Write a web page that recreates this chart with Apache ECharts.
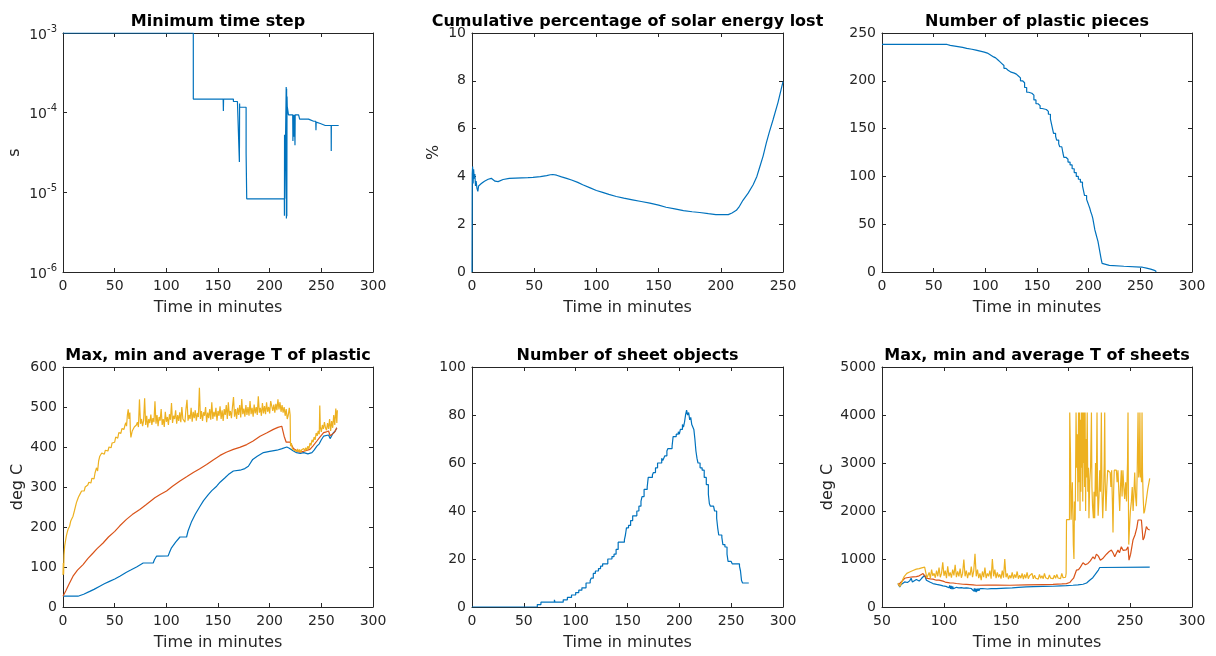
<!DOCTYPE html>
<html>
<head>
<meta charset="utf-8">
<script src="https://cdn.jsdelivr.net/npm/echarts@6/dist/echarts.min.js"></script>
<style>
  html, body { margin: 0; padding: 0; background: #fff; }
  #chart { width: 1216px; height: 656px; }
</style>
</head>
<body>
<div id="chart"></div>
<script>
// ---- data: [time in minutes, value] ----

// minimum solver time step (s)
const minTimeStep = [
  [0, 1e-3], [126.1, 1e-3], [126.1, 1.48e-4], [155.0, 1.48e-4], [155.2, 1.05e-4], [155.4, 1.48e-4],
  [164.9, 1.48e-4], [164.9, 1.38e-4], [168.8, 1.38e-4], [168.8, 1.32e-4], [170.5, 1.32e-4],
  [170.7, 2.4e-5], [170.8, 5.3e-5], [170.9, 1.3e-4], [171.0, 1.17e-4], [177.2, 1.17e-4],
  [177.2, 3.1e-5], [177.8, 8.3e-6], [214.2, 8.3e-6], [214.3, 5.1e-6], [214.4, 5.3e-5],
  [214.6, 8.3e-6], [215.8, 8.3e-6], [216.0, 2.1e-4], [216.2, 4.7e-6], [216.4, 2.0e-4],
  [216.6, 5e-6], [216.8, 1.6e-4], [217.0, 1.2e-4], [217.9, 1.2e-4], [218.2, 9.4e-5],
  [222.3, 9.4e-5], [222.5, 4.4e-5], [222.8, 9.4e-5], [223.2, 5e-5], [224.0, 9.4e-5],
  [224.5, 3.9e-5], [224.7, 9.4e-5], [228.0, 9.4e-5], [229.0, 8.3e-5], [237.6, 8.3e-5],
  [242.5, 7.8e-5], [244.6, 7.8e-5], [244.8, 6.0e-5], [245.0, 7.6e-5], [249.0, 7.3e-5],
  [253.8, 6.9e-5], [259.5, 6.9e-5], [259.6, 3.3e-5], [259.7, 6.9e-5], [266.8, 6.9e-5]
];

// cumulative percentage of solar energy lost (%)
const solarLost = [
  [0, 0], [0.2, 4.1], [0.5, 4.41], [0.9, 3.7], [1.3, 4.3], [1.8, 3.9], [2.3, 4.1], [2.8, 3.6],
  [3.3, 3.8], [4.0, 3.5], [4.7, 3.37], [5.3, 3.6], [6.0, 3.55], [7.5, 3.7], [8.5, 3.65],
  [10, 3.8], [11.5, 3.85], [13, 3.88], [15.5, 3.92], [17, 3.94], [18.5, 3.8], [19.5, 3.74],
  [21, 3.78], [22, 3.84], [25, 3.87], [30, 3.92], [35, 3.93], [40, 3.94], [45, 3.95],
  [49, 3.96], [55, 3.99], [60, 4.03], [63, 4.07], [65, 4.08], [68, 4.05], [72, 3.98],
  [76, 3.92], [80, 3.85], [85, 3.75], [89, 3.65], [95, 3.52], [100, 3.41], [105, 3.33],
  [110, 3.25], [116, 3.16], [122, 3.09], [129, 3.02], [136, 2.95], [143, 2.88], [150, 2.8],
  [156, 2.71], [163, 2.64], [170, 2.57], [177, 2.52], [183, 2.49], [190, 2.44], [196, 2.4],
  [206, 2.4], [209, 2.47], [212.5, 2.58], [215, 2.75], [217.8, 3.0], [222, 3.3], [226, 3.65],
  [229, 4.0], [231, 4.34], [234, 4.85], [236.6, 5.4], [239, 5.85], [242, 6.37], [246, 7.1],
  [250, 7.97]
];

// number of plastic pieces
const plasticPieces = [
  [0, 238], [63, 237], [66, 236], [72, 235], [78, 234], [82, 233], [87, 232], [91, 231],
  [95, 230], [99, 229], [102, 227], [105, 225], [108, 224], [110, 222], [112, 220],
  [114, 218], [116, 216], [118, 213], [120, 211], [122, 209], [125, 208], [128, 207],
  [130, 205], [132, 203], [134, 200], [136, 198], [138, 193], [140, 188], [142, 187],
  [145, 185], [147, 180], [149, 176], [151, 174], [153, 171], [155, 170], [159, 168],
  [161, 165], [163, 160], [164, 155], [165, 150], [166, 145], [168, 142], [169, 138],
  [171, 134], [172, 131], [174, 129], [175, 125], [176, 120], [178, 118], [180, 115],
  [182, 112], [184, 108], [186, 104], [188, 100], [190, 97], [192, 94], [194, 90],
  [195, 85], [196, 80], [198, 76], [199, 73], [200, 70], [201, 67], [202, 63], [203, 60],
  [204, 56], [205, 50], [206, 44], [207, 40], [208, 36], [209, 32], [210, 26], [211, 20],
  [212, 14], [213, 9], [214, 7], [220, 6], [234, 6], [235, 5], [250, 5], [252, 4],
  [256, 3], [260, 2], [263, 1], [265, 0]
];

// plastic temperature (deg C): minimum, average, maximum
const plasticTmin = [
  [0, 27], [14.5, 27], [16, 29], [20, 32], [25.9, 39], [30, 44], [35.6, 52], [40, 58],
  [45, 64], [50.1, 70], [55, 77], [61.4, 87], [66, 93], [71.2, 100], [77.6, 110],
  [87.3, 110], [88.5, 118], [90.5, 127], [101.8, 128], [103, 136], [105, 148], [109, 162],
  [113.2, 175], [119.6, 175], [121, 190], [124.5, 214], [128, 232], [132.6, 252],
  [136, 266], [140.6, 281], [144, 291], [148.7, 302], [152, 312], [156.8, 323], [160, 331],
  [164.9, 340], [171.3, 342], [176, 346], [179.4, 352], [181, 355], [183.6, 369],
  [188, 377], [194, 386], [200, 389], [207, 392], [212, 396], [216.6, 400], [219, 397],
  [223, 390], [226, 386], [229.6, 384], [233, 386], [237, 383], [240.9, 386], [243, 392],
  [245.7, 402], [248, 408], [250, 418], [252.2, 427], [254, 424], [257, 430], [258.5, 421],
  [260.3, 423], [261.5, 435], [263.5, 440], [265, 448]
];
const plasticTavg = [
  [0, 27], [3, 42], [6, 58], [9.7, 77], [14, 92], [19.4, 106], [24, 121], [29.1, 135],
  [33, 146], [38.8, 160], [44, 175], [50.1, 189], [55, 203], [61.4, 219], [67, 231],
  [74.3, 244], [80, 255], [88.9, 273], [94, 281], [100.2, 290], [106, 302], [113.2, 315],
  [120, 326], [126.1, 336], [132, 345], [139, 356], [145, 367], [152, 379], [158, 387],
  [164.9, 394], [171, 399], [177.8, 406], [184, 415], [190.7, 427], [197, 435],
  [203.6, 444], [208, 449], [211.7, 452], [213, 447], [214, 427], [216, 412], [219.8, 412],
  [223, 396], [226, 391], [229.6, 387], [234, 390], [239, 394], [242, 403], [245.7, 415],
  [249, 426], [252.2, 436], [255, 438], [257, 440], [258.5, 428], [260.3, 423],
  [262.5, 436], [265, 448]
];
const plasticTmax = [
  [0, 80], [0.3, 110], [0.6, 82], [1.0, 130], [1.6, 152], [2.4, 165], [3.2, 177], [4.0, 186],
  [5.0, 195], [6.4, 202], [7.5, 215], [8.5, 212], [9.7, 227], [11, 240], [12, 236],
  [13, 261], [14, 268], [15, 275], [16.2, 281], [17, 278], [18, 290], [19.4, 294],
  [20.5, 290], [21.5, 300], [22.6, 302], [24, 305], [25, 312], [25.9, 315], [27, 310],
  [28, 322], [29.1, 327], [30, 320], [31, 335], [32.4, 348], [33.5, 340], [34.5, 365],
  [35.6, 377], [36.5, 372], [37.5, 385], [38.8, 386], [40, 382], [41, 392], [42, 394],
  [43.5, 390], [44.5, 400], [45.3, 402], [46.5, 398], [47.5, 410], [48.5, 415], [50, 412],
  [51, 425], [51.8, 427], [53, 422], [54, 436], [55, 440], [56, 434], [57, 446], [58.2, 448],
  [59, 444], [60, 455], [60.8, 461], [61.5, 452], [62.3, 480], [63.1, 494], [63.8, 470],
  [64.7, 486], [65.2, 440], [65.7, 424], [67, 440], [68, 438], [69, 450], [70, 446],
  [71, 455], [72, 462], [73, 450], [74, 519], [75, 458], [76, 470], [77, 452], [78, 466],
  [79, 522], [80, 455], [81, 478], [82, 449], [83, 470], [84, 460], [85, 481], [86, 455],
  [87, 472], [88, 462], [89, 514], [90, 458], [91, 480], [92, 452], [93, 475], [94, 466],
  [95, 495], [96, 455], [97, 470], [98, 450], [99, 488], [100, 463], [101, 475], [102, 455],
  [103, 482], [104, 468], [105, 510], [106, 460], [107, 478], [108, 470], [109, 492],
  [110, 458], [111, 480], [112, 465], [113, 487], [114, 462], [115, 500], [116, 470],
  [117, 475], [118, 462], [119, 495], [120, 518], [121, 466], [122, 480], [123, 470],
  [124, 498], [125, 463], [126, 488], [127, 472], [128, 492], [129, 466], [130, 485],
  [131, 475], [132, 548], [133, 470], [134, 490], [135, 465], [136, 487], [137, 478],
  [138, 500], [139, 462], [140, 486], [141, 472], [142, 495], [143, 468], [144, 512],
  [145, 470], [146, 488], [147, 476], [148, 498], [149, 466], [150, 490], [151, 478],
  [152, 502], [153, 470], [154, 492], [155, 465], [156, 495], [157, 480], [158, 505],
  [159, 470], [160, 512], [161, 478], [162, 490], [163, 472], [164, 500], [165, 525],
  [166, 476], [167, 495], [168, 470], [169, 498], [170, 480], [171, 505], [172, 474],
  [173, 520], [174, 482], [175, 496], [176, 476], [177, 505], [178, 480], [179, 500],
  [180, 478], [181, 515], [182, 482], [183, 498], [184, 476], [185, 506], [186, 484],
  [187, 500], [188, 480], [189, 527], [190, 486], [191, 498], [192, 478], [193, 510],
  [194, 484], [195, 502], [196, 482], [197, 512], [198, 488], [199, 500], [200, 484],
  [201, 515], [202, 520], [203, 490], [204, 506], [205, 486], [206, 508], [207, 492],
  [208, 519], [209, 494], [210, 512], [211, 488], [212, 505], [213, 486], [214, 500],
  [215, 478], [216, 495], [217, 470], [218, 480], [219, 498], [219.8, 480], [220.2, 402],
  [221, 410], [222, 395], [223, 400], [224, 392], [225, 397], [226, 389], [227, 395],
  [228, 388], [229, 394], [230, 387], [231, 393], [232, 389], [233, 396], [234, 390],
  [235, 398], [236, 392], [237, 402], [238, 395], [239, 410], [240, 404], [241, 418],
  [242, 412], [243, 425], [244, 418], [245, 435], [246, 428], [247, 440], [248, 432],
  [248.5, 504], [249, 450], [250, 438], [251, 455], [252, 445], [253, 462], [254, 448],
  [255, 442], [256, 460], [257, 445], [258, 470], [259, 440], [260, 465], [261, 448],
  [262, 480], [263, 455], [264, 496], [265, 460], [265.5, 492]
];

// number of sheet objects
const sheetCount = [
  [0, 0], [63, 1], [66.5, 2], [79.5, 3], [80, 2], [88, 3], [92, 4], [96, 5], [100, 6],
  [103, 7], [106, 8], [110, 10], [114, 11], [115, 12], [117, 14], [119, 15], [122, 16],
  [124, 17], [126, 18], [131, 20], [135, 21], [137, 22], [139, 24], [141, 27], [147, 28],
  [148, 30], [149, 33], [151, 34], [153, 36], [155, 38], [159, 40], [161, 42], [163, 44],
  [164, 46], [166, 49], [169, 50], [170, 54], [174, 55], [175, 56], [177, 58], [179, 60],
  [183, 62], [184, 61], [185, 62], [186, 63], [188, 65], [189, 66], [193, 67], [194, 71],
  [197, 72], [199, 73], [200, 72], [201, 74], [203, 76], [204, 75], [205, 77], [206, 80],
  [207, 82], [208, 80], [209, 81], [210, 78], [211, 79], [212, 76], [213, 75], [214, 74],
  [215, 70], [216, 65], [217, 62], [218, 60], [220, 58], [222, 57], [224, 54], [226, 51],
  [228, 47], [229, 43], [230, 42], [233, 42], [234, 40], [236, 37], [237, 33], [238, 30],
  [241, 29], [242, 26], [244, 25], [246, 22], [247, 19], [250, 19], [251, 18], [258, 17],
  [259, 15], [260, 11], [261, 10], [267, 10]
];

// sheet temperature (deg C): minimum, average, maximum
const sheetTmin = [
  [62.9, 488], [64.3, 418], [65.5, 470], [66.5, 500], [68.3, 523], [69.5, 560], [70.5, 510],
  [72.3, 544], [73.5, 600], [74.5, 520], [76, 560], [77.7, 572], [79, 590], [80, 540],
  [81.8, 593], [83.1, 610], [84.4, 662], [85, 640], [85.8, 558], [87, 540], [88.5, 520],
  [90, 510], [91.1, 488], [92.5, 500], [94, 470], [95.5, 480], [97, 455], [99.2, 440],
  [100.5, 460], [101.5, 430], [103, 440], [104, 400], [104.6, 450], [105.2, 380],
  [105.8, 440], [106.4, 370], [107, 430], [107.6, 380], [108.2, 420], [109, 390],
  [110, 410], [112, 400], [114, 405], [116, 395], [118, 400], [120, 392], [122, 385],
  [123.4, 384], [124, 330], [124.5, 390], [125, 320], [125.5, 385], [126, 310],
  [126.5, 380], [127, 330], [127.5, 385], [128.2, 340], [129, 384], [130, 360], [131, 384],
  [133, 380], [135, 375], [138, 382], [142.2, 384], [146, 390], [150, 395], [155, 400],
  [160, 410], [166.4, 418], [172, 425], [179.8, 430], [187.9, 432], [194, 440],
  [198.7, 445], [204, 453], [208, 462], [212.1, 474], [215, 500], [217.5, 558], [220, 610],
  [221.5, 662], [223, 700], [224.5, 770], [225.6, 823], [226.1, 830], [265.9, 830]
];
const sheetTavg = [
  [62.9, 453], [64.3, 432], [65.5, 520], [66.5, 560], [68.3, 599], [70, 610], [72.3, 620],
  [75, 628], [77.7, 634], [80, 650], [83.1, 697], [84.4, 705], [85.8, 599], [87, 600],
  [89, 585], [91.1, 580], [93.8, 558], [96, 560], [99.2, 540], [101, 520], [104.6, 502],
  [107.3, 500], [110, 490], [115.3, 474], [118, 470], [123.4, 460], [126.1, 453],
  [135, 455], [142.2, 455], [153, 453], [166.4, 460], [179.8, 467], [187.9, 472],
  [195, 480], [198.7, 488], [201.4, 510], [203, 558], [204.5, 600], [206.8, 767],
  [208.5, 780], [210, 830], [212.1, 921], [214, 880], [216.1, 907], [218, 960],
  [220.2, 1046], [221.5, 1000], [222.9, 1102], [224.5, 1060], [226.1, 976], [228, 1010],
  [229.6, 1046], [231, 1100], [233, 1150], [235, 1185], [236.5, 1120], [237.7, 1046],
  [239, 1120], [240.3, 1185], [241.5, 1130], [243, 1255], [244.5, 1180], [245.7, 1220],
  [247, 1190], [248.4, 1255], [249.2, 976], [250.5, 1100], [252.4, 1395], [254, 1500],
  [255.5, 1650], [256.5, 1813], [258, 1780], [259.2, 1813], [260.5, 1395], [261.5, 1450],
  [263.2, 1674], [264.5, 1620], [265.9, 1604]
];
const sheetTmax = [
  [62.9, 500], [63.5, 470], [64.3, 430], [65.5, 480], [66.5, 560], [68, 640], [70, 700],
  [72.3, 730], [75, 760], [77.7, 790], [80, 800], [82, 815], [84.4, 830], [85.8, 835],
  [86.2, 605], [87, 640], [88, 720], [89, 600], [90, 780], [91, 650], [92, 700], [93, 610],
  [94, 760], [95, 640], [96, 820], [97, 620], [98, 700], [99, 930], [100, 650], [101, 760],
  [102, 600], [103, 850], [104, 640], [105, 720], [106, 610], [107, 780], [108, 660],
  [109, 880], [110, 620], [111, 740], [112, 640], [113, 800], [114, 610], [115, 700],
  [116, 990], [117, 640], [118, 760], [119, 600], [120, 720], [121, 660], [122, 840],
  [123, 620], [124, 760], [125, 1110], [126, 640], [127, 780], [128, 600], [129, 700],
  [130, 560], [131, 740], [132, 620], [133, 820], [134, 600], [135, 700], [136, 640],
  [137, 760], [138, 590], [139, 1000], [140, 640], [141, 780], [142, 600], [143, 720],
  [144, 620], [145, 680], [146, 590], [147, 760], [148, 610], [149, 1000], [150, 620],
  [151, 700], [152, 580], [153, 660], [154, 600], [155, 720], [156, 590], [157, 680],
  [158, 610], [159, 740], [160, 590], [161, 660], [162, 600], [163, 700], [164, 580],
  [165, 680], [166, 600], [167, 720], [168, 590], [169, 650], [170, 610], [171, 700],
  [172, 585], [173, 660], [174, 600], [175, 640], [176, 580], [177, 680], [178, 600],
  [179, 650], [180, 590], [181, 700], [182, 610], [183, 640], [184, 585], [185, 670],
  [186, 600], [187, 640], [188, 590], [189, 660], [190, 600], [191, 680], [192, 605],
  [193, 640], [194, 590], [195, 700], [196, 610], [197, 650], [198, 620], [198.5, 700],
  [198.8, 1820], [201.2, 1820], [201.4, 4050], [202.0, 3200], [202.5, 1820], [203.5, 2600],
  [204.3, 1300], [204.8, 1000], [205.2, 2200], [205.8, 1800], [206.5, 4050], [207.0, 2900],
  [207.5, 3600], [208.0, 2200], [208.5, 4050], [209.0, 2600], [209.3, 4050], [209.7, 2000],
  [210.0, 3900], [210.4, 2400], [210.8, 4050], [211.2, 2900], [211.5, 4050], [211.9, 2200],
  [212.3, 4050], [212.7, 3000], [213.0, 4050], [213.4, 2500], [213.8, 4050], [214.2, 2000],
  [214.6, 3500], [215.0, 2700], [215.5, 4050], [216.0, 2400], [216.5, 2900], [216.9, 1850],
  [217.5, 2600], [218.2, 2900], [218.9, 4050], [219.3, 2500], [219.8, 2100], [220.5, 1850],
  [221.0, 2400], [221.5, 1850], [222.2, 3000], [222.8, 2300], [223.4, 4050], [223.8, 2500],
  [224.3, 1900], [225.0, 2300], [225.6, 2850], [226.2, 2400], [226.9, 4050], [227.4, 2400],
  [228.0, 1850], [228.7, 2400], [229.2, 3000], [229.6, 4050], [230.0, 2600], [230.6, 2000],
  [231.3, 2500], [232.0, 2850], [233.5, 2850], [234.0, 2800], [234.6, 2500], [235.2, 2850],
  [235.8, 2200], [236.3, 1550], [236.8, 2400], [237.3, 2850], [239.0, 2850], [239.6, 2600],
  [240.3, 2850], [241.0, 2400], [241.7, 2000], [242.3, 2500], [243.0, 2850], [243.6, 2300],
  [244.3, 2850], [245.0, 2500], [245.7, 2250], [246.5, 2600], [247.2, 2200], [248.0, 3000],
  [248.4, 4050], [248.7, 2300], [249.0, 1300], [249.5, 1600], [250.3, 2000], [251.1, 2200],
  [251.8, 2500], [252.5, 2000], [253.2, 2400], [253.8, 2800], [254.5, 2300], [255.2, 2100],
  [255.8, 2800], [256.5, 4050], [257.0, 2700], [257.5, 2850], [258.0, 4050], [258.4, 2700],
  [258.8, 2850], [259.3, 2600], [259.7, 4050], [260.1, 2800], [260.6, 2300], [261.2, 1950],
  [261.8, 2000], [263.0, 2200], [264.3, 2450], [265.9, 2680]
];

// ---- panel text ----
const panelTitles = [
  'Minimum time step',
  'Cumulative percentage of solar energy lost',
  'Number of plastic pieces',
  'Max, min and average T of plastic',
  'Number of sheet objects',
  'Max, min and average T of sheets'
];
const xAxisTitle = 'Time in minutes';
const yAxisTitles = ['s', '%', '', 'deg C', '', 'deg C'];

// ---- styling ----
const FONT = 'DejaVu Sans';
const AXIS_COLOR = '#262626';
const BLUE = '#0072BD', ORANGE = '#D95319', YELLOW = '#EDB120';

// plot boxes: [left, top, width, height]
const boxes = [
  [63, 33, 310, 239], [472, 33, 311, 239], [882, 33, 310, 239],
  [63, 367, 310, 240], [472, 367, 311, 240], [882, 367, 310, 240]
];
// axis ranges per panel
const xRanges = [[0, 300, 50], [0, 250, 50], [0, 300, 50], [0, 300, 50], [0, 300, 50], [50, 300, 50]];
const yRanges = [null, [0, 10, 2], [0, 250, 50], [0, 600, 100], [0, 100, 20], [0, 5000, 1000]];
const yNameGaps = [40, 30, 0, 37, 0, 46];

const grid = [], xAxis = [], yAxis = [], series = [];
const plainNumber = v => String(v);
const tickLabel = { fontSize: 14, color: AXIS_COLOR, fontFamily: FONT, formatter: plainNumber };
const boxLine = { show: true, onZero: false, lineStyle: { color: AXIS_COLOR, width: 1 } };
const tickIn = { show: true, inside: true, length: 4, lineStyle: { color: AXIS_COLOR } };

boxes.forEach((b, i) => {
  grid.push({ left: b[0], top: b[1], width: b[2], height: b[3] });
  const [xmin, xmax, xint] = xRanges[i];
  const xBase = { gridIndex: i, type: 'value', min: xmin, max: xmax, interval: xint,
    axisLine: boxLine, axisTick: tickIn, splitLine: { show: false } };
  xAxis.push(Object.assign({}, xBase, {
    position: 'bottom',
    axisLabel: Object.assign({ margin: 7 }, tickLabel),
    name: xAxisTitle, nameLocation: 'middle', nameGap: 28,
    nameTextStyle: { fontSize: 16, color: AXIS_COLOR, fontFamily: FONT }
  }));
  xAxis.push(Object.assign({}, xBase, {
    position: 'top', axisLabel: { show: false },
    name: panelTitles[i], nameLocation: 'middle', nameGap: 3,
    nameTextStyle: { fontSize: 16, fontWeight: 'bold', color: '#000', fontFamily: FONT }
  }));

  let yBase;
  if (i === 0) {
    yBase = { gridIndex: i, type: 'log', logBase: 10, min: 1e-6, max: 1e-3,
      axisLine: boxLine, axisTick: tickIn, splitLine: { show: false }, minorTick: { show: false } };
  } else {
    const [ymin, ymax, yint] = yRanges[i];
    yBase = { gridIndex: i, type: 'value', min: ymin, max: ymax, interval: yint,
      axisLine: boxLine, axisTick: tickIn, splitLine: { show: false } };
  }
  const leftLabel = i === 0
    ? { margin: 6, formatter: v => '{b|10}{e|' + Math.round(Math.log10(v)) + '}',
        rich: { b: { fontSize: 14, color: AXIS_COLOR, fontFamily: FONT, verticalAlign: 'bottom', lineHeight: 18 },
                e: { fontSize: 10, color: AXIS_COLOR, fontFamily: FONT, verticalAlign: 'top', lineHeight: 18 } } }
    : Object.assign({ margin: 6 }, tickLabel);
  yAxis.push(Object.assign({}, yBase, {
    position: 'left', axisLabel: leftLabel,
    name: yAxisTitles[i], nameLocation: 'middle', nameGap: yNameGaps[i],
    nameTextStyle: { fontSize: 16, color: AXIS_COLOR, fontFamily: FONT }
  }));
  yAxis.push(Object.assign({}, yBase, { position: 'right', axisLabel: { show: false } }));
});

function line(panel, data, color, step) {
  return { type: 'line', xAxisIndex: panel * 2, yAxisIndex: panel * 2, data: data,
    step: step || false, symbol: 'none', showSymbol: false, silent: true,
    lineStyle: { color: color, width: 1.2 }, animation: false };
}

series.push(line(0, minTimeStep, BLUE));
series.push(line(1, solarLost, BLUE));
series.push(line(2, plasticPieces, BLUE, 'end'));
series.push(line(3, plasticTmin, BLUE));
series.push(line(3, plasticTavg, ORANGE));
series.push(line(3, plasticTmax, YELLOW));
series.push(line(4, sheetCount, BLUE, 'end'));
series.push(line(5, sheetTmin, BLUE));
series.push(line(5, sheetTavg, ORANGE));
series.push(line(5, sheetTmax, YELLOW));

const chart = echarts.init(document.getElementById('chart'), null, { renderer: 'canvas' });
chart.setOption({
  animation: false,
  backgroundColor: '#fff',
  textStyle: { fontFamily: FONT },
  grid: grid, xAxis: xAxis, yAxis: yAxis, series: series
});
</script>
</body>
</html>
